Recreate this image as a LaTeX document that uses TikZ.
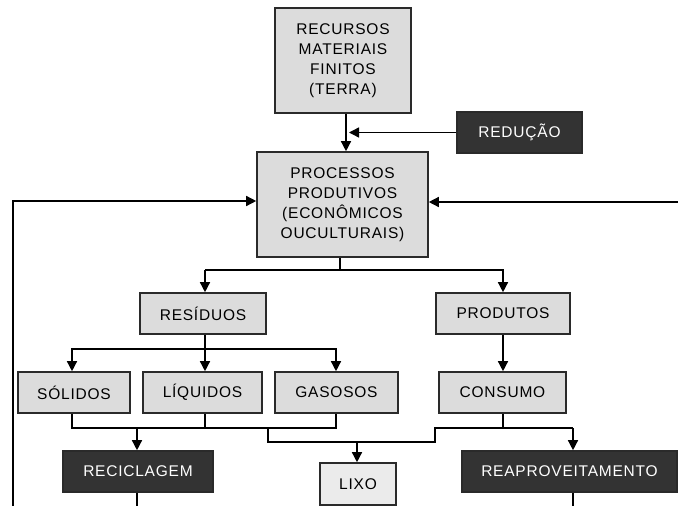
\documentclass[tikz,border=0pt]{standalone}
\usepackage{fontspec}
\setmainfont{Liberation Sans}[LetterSpace=5]
\usetikzlibrary{arrows.meta}
\definecolor{boxgray}{HTML}{DCDCDC}
\definecolor{lixogray}{HTML}{EBEBEB}
\definecolor{darkbox}{HTML}{333333}
\definecolor{edgegray}{HTML}{2A2A2A}
\begin{document}
\begin{tikzpicture}[x=1pt,y=-1pt,
  lbox/.style={draw=edgegray, line width=1.6pt, fill=boxgray, align=center, inner sep=0pt,
    font=\fontsize{15.5}{20}\selectfont},
  dbox/.style={lbox, fill=darkbox, text=white},
  arr/.style={-{Triangle[width=10pt,length=10pt]}, line width=1.4pt},
  ln/.style={line width=1.4pt}]
\useasboundingbox (0,0) rectangle (678,506);

% nodes
\node[lbox, minimum width=136pt, minimum height=105pt] (rec) at (343,60.5) {RECURSOS\\MATERIAIS\\FINITOS\\(TERRA)};
\node[dbox, minimum width=125pt, minimum height=41pt] (red) at (519.5,132.5) {REDUÇÃO};
\node[lbox, minimum width=171pt, minimum height=105pt] (proc) at (342.5,204.5) {PROCESSOS\\PRODUTIVOS\\(ECONÔMICOS\\OUCULTURAIS)};
\node[lbox, minimum width=126pt, minimum height=41pt] (res) at (203,313.5) {RESÍDUOS};
\node[lbox, minimum width=134pt, minimum height=41pt] (prod) at (503,313.5) {PRODUTOS};
\node[lbox, minimum width=112pt, minimum height=41pt] (sol) at (74,392.5) {SÓLIDOS};
\node[lbox, minimum width=119pt, minimum height=41pt] (liq) at (202.5,392.5) {LÍQUIDOS};
\node[lbox, minimum width=123pt, minimum height=41pt] (gas) at (336.5,392.5) {GASOSOS};
\node[lbox, minimum width=127pt, minimum height=41pt] (cons) at (502.5,392.5) {CONSUMO};
\node[dbox, minimum width=150pt, minimum height=41pt] (recic) at (138,471.5) {RECICLAGEM};
\node[lbox, fill=lixogray, minimum width=76pt, minimum height=42pt] (lixo) at (358,484) {LIXO};
\node[dbox, minimum width=215pt, minimum height=41pt] (reap) at (569.5,471.5) {REAPROVEITAMENTO};

% free ends
\coordinate (rightend) at (678,202);
\coordinate (leftbot) at (13,506);
\coordinate (recbot) at (137,506);
\coordinate (reapbot) at (573,506);

% connectors
\draw[arr] (rec.south -| 346,0) -- (proc.north -| 346,0);
\draw[arr] (red.west) -- (349,132.5);
\draw[arr] (rightend) -- (proc.east |- rightend);
\draw[arr] (leftbot) -- (13,201) -- (proc.west |- 0,201);

\draw[ln] (proc.south -| 340,0) -- (340,270);
\draw[arr] (205,270) -- (res.north -| 205,0);
\draw[arr] (340,270) -- (503,270) -- (prod.north -| 503,0);
\draw[ln] (205,270) -- (340,270);

\draw[ln] (res.south -| 205,0) -- (205,349);
\draw[arr] (205,349) -- (liq.north -| 205,0);
\draw[arr] (205,349) -- (72,349) -- (sol.north -| 72,0);
\draw[arr] (205,349) -- (336,349) -- (gas.north -| 336,0);

\draw[arr] (prod.south -| 503,0) -- (cons.north -| 503,0);

\draw[ln] (sol.south -| 72,0) -- (72,428) -- (336,428) -- (gas.south -| 336,0);
\draw[ln] (liq.south -| 205,0) -- (205,428);
\draw[arr] (137,428) -- (recic.north -| 137,0);

\draw[ln] (268,428) -- (268,442) -- (435,442) -- (435,428) -- (573,428);
\draw[ln] (cons.south -| 503,0) -- (503,428);
\draw[arr] (573,428) -- (reap.north -| 573,0);
\draw[arr] (357,442) -- (lixo.north -| 357,0);

\draw[ln] (recic.south -| 137,0) -- (recbot);
\draw[ln] (reap.south -| 573,0) -- (reapbot);
\end{tikzpicture}
\end{document}
